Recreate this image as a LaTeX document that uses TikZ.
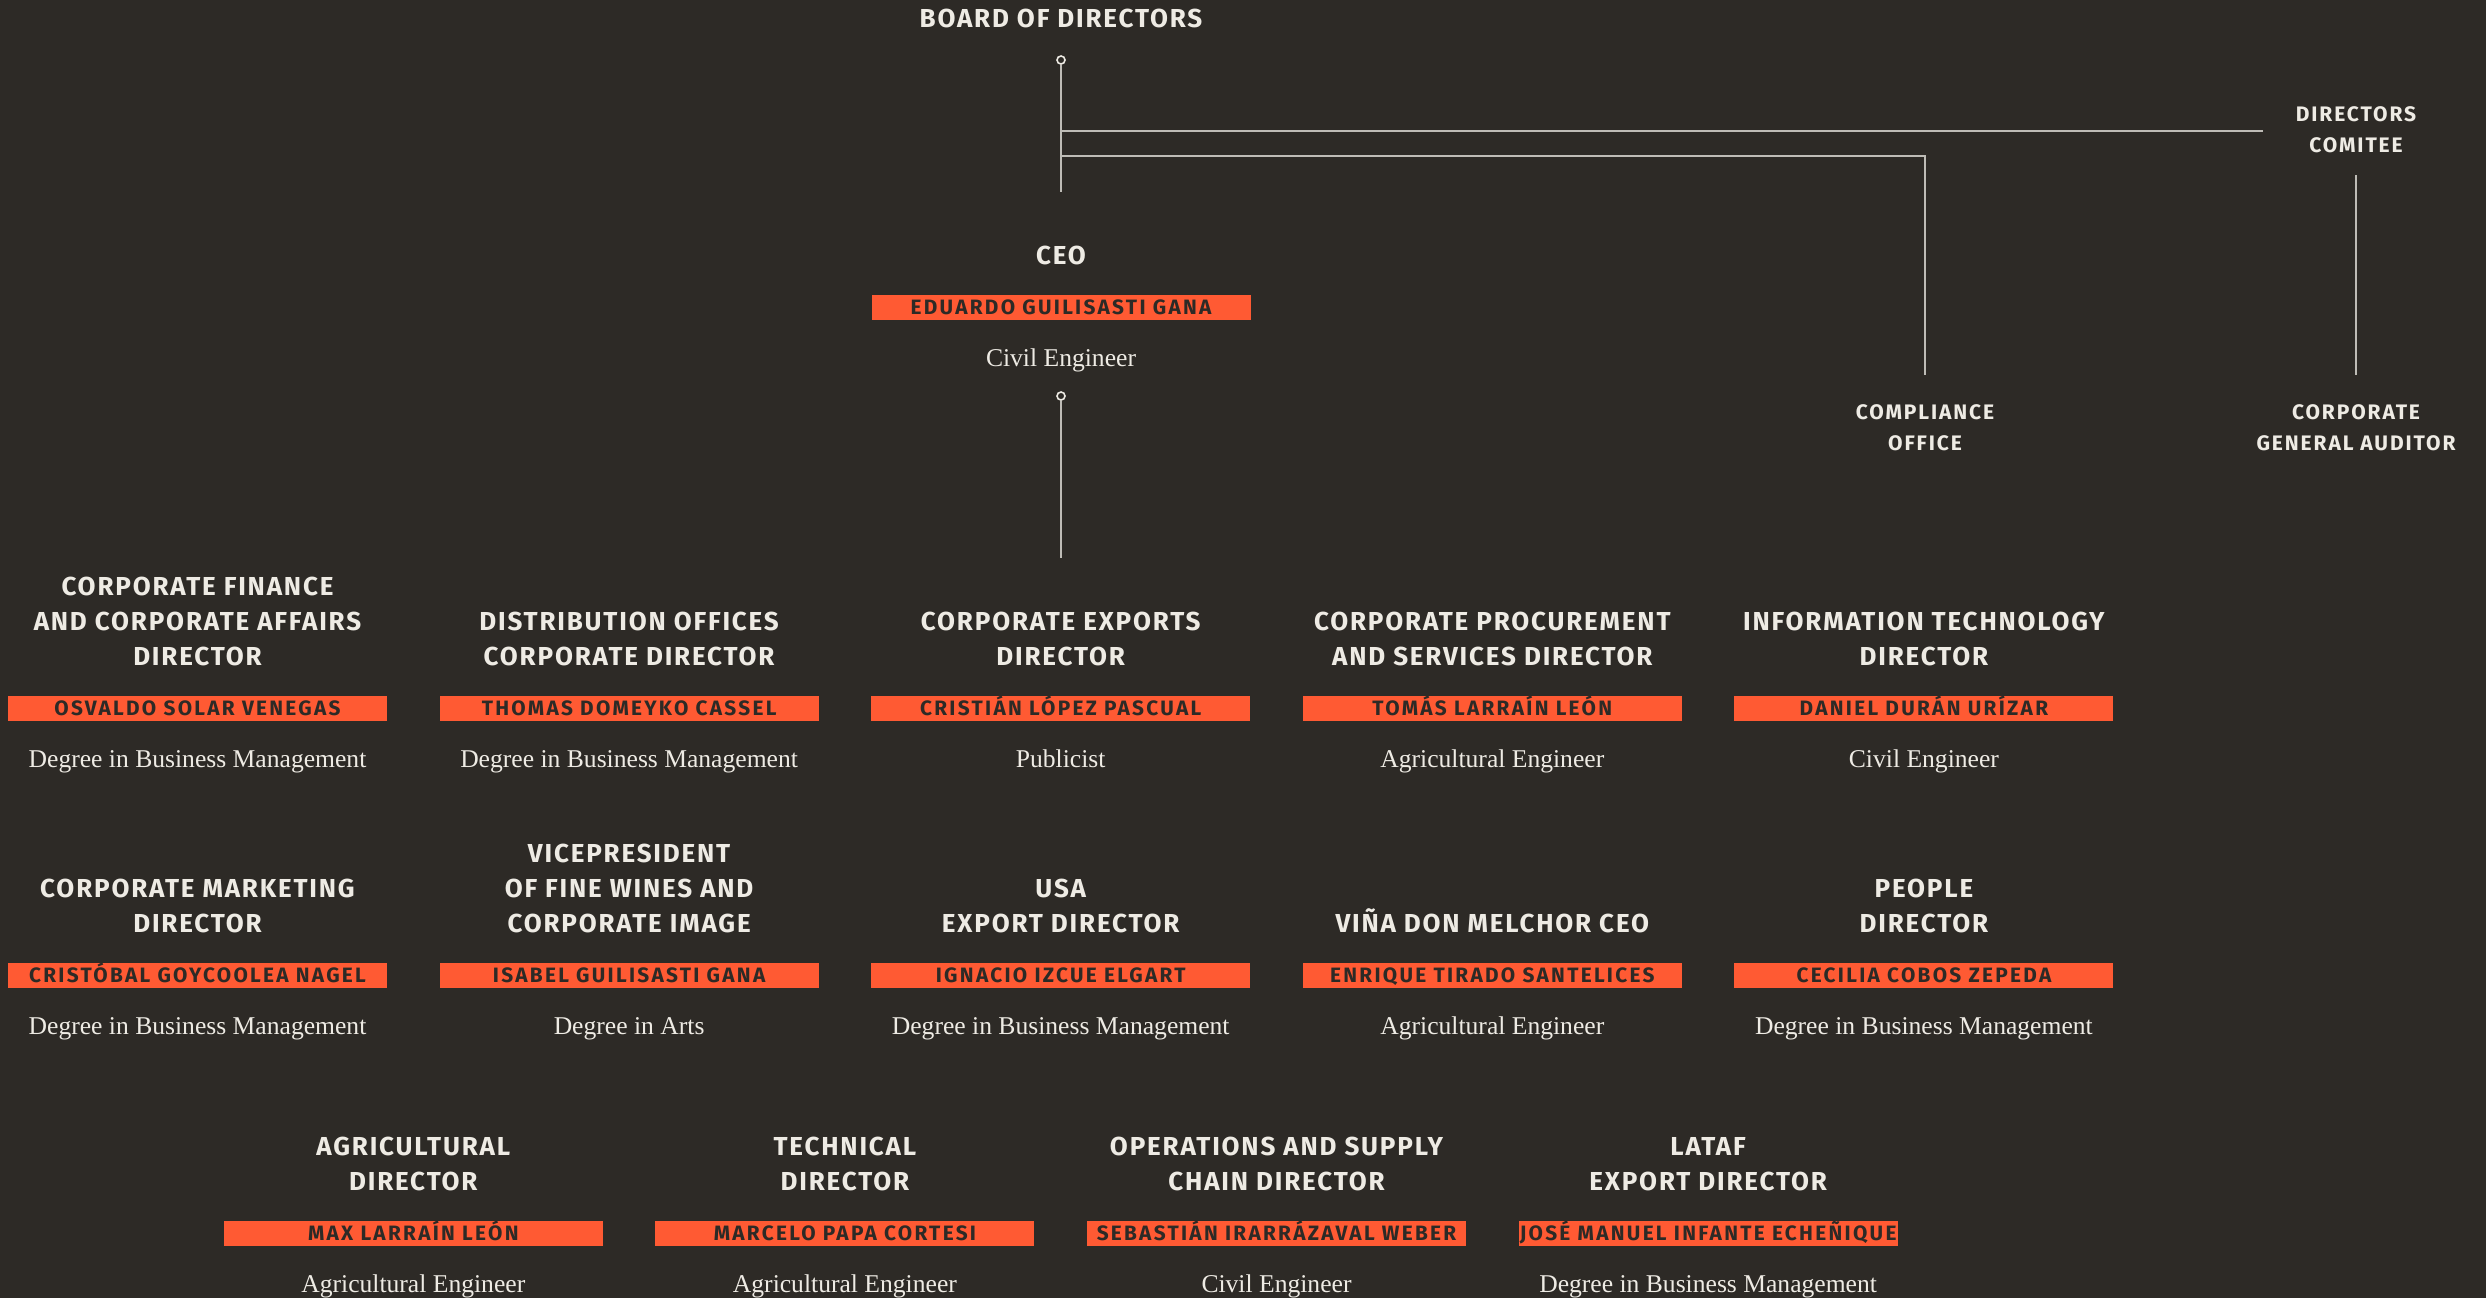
\documentclass[tikz,border=0pt]{standalone}
\usepackage{fontspec}
\setmainfont{Liberation Serif}
\newfontfamily\headfont[LetterSpace=7]{Fira Sans}
\newfontfamily\namefont[LetterSpace=11]{Fira Sans}
\newfontfamily\unitfont[LetterSpace=9]{Fira Sans}
\usetikzlibrary{positioning}

\definecolor{bgdark}{HTML}{2D2A26}
\definecolor{barorange}{HTML}{FF5A33}
\definecolor{paper}{HTML}{EEEBE4}
\definecolor{wiregrey}{HTML}{BEBCB6}

\begin{document}
\begin{tikzpicture}[
  x=0.5pt,y=-0.5pt,
  title/.style={font=\headfont\bfseries\fontsize{13}{17.5}\selectfont,text=paper,align=center,inner sep=0pt},
  bar/.style={fill=barorange,text=bgdark,font=\namefont\bfseries\fontsize{10.4}{12}\selectfont,
    minimum width=189.5pt,minimum height=12.5pt,text height=7.2pt,text depth=0pt,inner sep=0pt},
  degree/.style={font=\fontsize{12.8}{15}\selectfont,text=paper,text height=8.5pt,text depth=2.5pt,inner sep=0pt},
  unit/.style={font=\unitfont\bfseries\fontsize{10.5}{15.6}\selectfont,text=paper,align=center,inner sep=0pt},
  wire/.style={draw=wiregrey,line width=1pt},
  pin/.style={circle,draw=paper,fill=bgdark,line width=0.8pt,inner sep=0pt,minimum size=4pt}
]
  \fill[bgdark] (0,0) rectangle (2486,1298);
  \useasboundingbox (0,0) rectangle (2486,1298);

  % board and committees
  \node[title] (board) at (1061,18) {BOARD OF DIRECTORS};
  \node[pin] (bpin) at (1061,60) {};
  \coordinate (bend) at (1061,192);
  \node[unit] (dircom) at (2356,129.5) {DIRECTORS\\COMITEE};
  \node[unit] (compl) at (1925,428) {COMPLIANCE\\OFFICE};
  \node[unit] (audit) at (2356,428) {CORPORATE\\GENERAL AUDITOR};
  \coordinate (cturn) at (1925,156);

  \draw[wire] (bpin) -- (bend);
  \draw[wire] (bpin |- 0,131) -- (2263,131);
  \draw[wire] (bpin |- cturn) -- (cturn) -- ([yshift=14.5pt]compl.north);
  \draw[wire] ([yshift=-11pt]dircom.south) -- ([yshift=14.5pt]audit.north);

  % ceo
  \node[bar] (ceobar) at (1061,307.5) {EDUARDO GUILISASTI GANA};
  \node[title,above=14.5pt of ceobar] (ceo) {CEO};
  \node[degree,below=14.5pt of ceobar] (ceodeg) {Civil Engineer};
  \node[pin] (cpin) at (1061,396) {};
  \coordinate (cend) at (1061,558);
  \draw[wire] (cpin) -- (cend);

  % first row
  \foreach \i/\t/\n/\d in {
    0/{CORPORATE FINANCE\\AND CORPORATE AFFAIRS\\DIRECTOR}/{OSVALDO SOLAR VENEGAS}/{Degree in Business Management},
    1/{DISTRIBUTION OFFICES\\CORPORATE DIRECTOR}/{THOMAS DOMEYKO CASSEL}/{Degree in Business Management},
    2/{CORPORATE EXPORTS\\DIRECTOR}/{CRISTIÁN LÓPEZ PASCUAL}/{Publicist},
    3/{CORPORATE PROCUREMENT\\AND SERVICES DIRECTOR}/{TOMÁS LARRAÍN LEÓN}/{Agricultural Engineer},
    4/{INFORMATION TECHNOLOGY\\DIRECTOR}/{DANIEL DURÁN URÍZAR}/{Civil Engineer}} {
    \node[bar] (a\i) at ({197.5+431.6*\i},708.5) {\n};
    \node[title,above=14.5pt of a\i] (at\i) {\t};
    \node[degree,below=14.5pt of a\i] (ad\i) {\d};
  }

  % second row
  \foreach \i/\t/\n/\d in {
    0/{CORPORATE MARKETING\\DIRECTOR}/{CRISTÓBAL GOYCOOLEA NAGEL}/{Degree in Business Management},
    1/{VICEPRESIDENT\\OF FINE WINES AND\\CORPORATE IMAGE}/{ISABEL GUILISASTI GANA}/{Degree in Arts},
    2/{USA\\EXPORT DIRECTOR}/{IGNACIO IZCUE ELGART}/{Degree in Business Management},
    3/{VIÑA DON MELCHOR CEO}/{ENRIQUE TIRADO SANTELICES}/{Agricultural Engineer},
    4/{PEOPLE\\DIRECTOR}/{CECILIA COBOS ZEPEDA}/{Degree in Business Management}} {
    \node[bar] (b\i) at ({197.5+431.6*\i},975.5) {\n};
    \node[title,above=14.5pt of b\i] (bt\i) {\t};
    \node[degree,below=14.5pt of b\i] (bd\i) {\d};
  }

  % third row
  \foreach \i/\t/\n/\d in {
    0/{AGRICULTURAL\\DIRECTOR}/{MAX LARRAÍN LEÓN}/{Agricultural Engineer},
    1/{TECHNICAL\\DIRECTOR}/{MARCELO PAPA CORTESI}/{Agricultural Engineer},
    2/{OPERATIONS AND SUPPLY\\CHAIN DIRECTOR}/{SEBASTIÁN IRARRÁZAVAL WEBER}/{Civil Engineer},
    3/{LATAF\\EXPORT DIRECTOR}/{JOSÉ MANUEL INFANTE ECHEÑIQUE}/{Degree in Business Management}} {
    \node[bar] (c\i) at ({413.3+431.6*\i},1233) {\n};
    \node[title,above=14.5pt of c\i] (ct\i) {\t};
    \node[degree,below=14.5pt of c\i] (cd\i) {\d};
  }
\end{tikzpicture}
\end{document}
